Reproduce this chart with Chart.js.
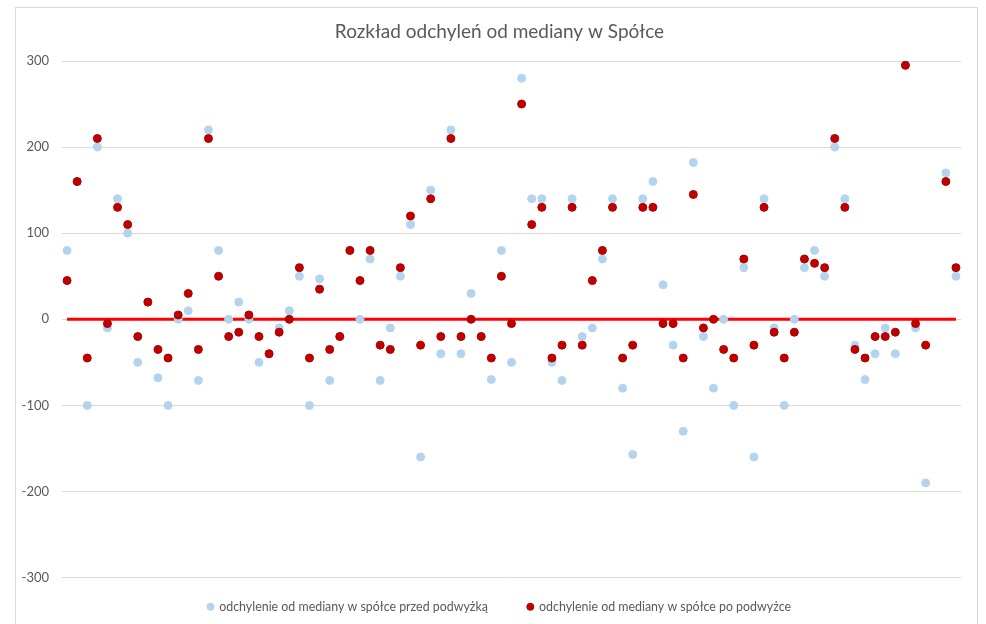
<!DOCTYPE html>
<html>
<head>
<meta charset="utf-8">
<script src="https://cdn.jsdelivr.net/npm/chart.js@4.4.1/dist/chart.umd.min.js"></script>
<style>
  body { margin: 0; background: #fff; overflow: hidden; }
  #ramka { position: absolute; left: 15px; top: 7px; width: 961px; height: 640px; border: 1px solid #d9d9d9; }
  #wykres { position: absolute; left: 0; top: 0; }
</style>
</head>
<body>
<div id="ramka"></div>
<canvas id="wykres" width="986" height="624"></canvas>
<script>
//Dane wykresu - kolejni pracownicy (89 pozycji, pozycja 87 bez danych)
const pracownicy = [];
for (let i = 1; i <= 89; i++) pracownicy.push(i);

//Odchylenie od mediany przed podwyżką
const przedPodwyzka = [
  80, 160, -100, 200, -10, 140, 100, -50, 20, -68,
  -100, 0, 10, -71, 220, 80, 0, 20, 0, -50,
  -40, -10, 10, 50, -100, 47, -71, -20, 80, 0,
  70, -71, -10, 50, 110, -160, 150, -40, 220, -40,
  30, -20, -70, 80, -50, 280, 140, 140, -50, -71,
  140, -20, -10, 70, 140, -80, -157, 140, 160, 40,
  -30, -130, 182, -20, -80, 0, -100, 60, -160, 140,
  -10, -100, 0, 60, 80, 50, 200, 140, -30, -70,
  -40, -10, -40, 295, -10, -190, null, 170, 50
];

//Odchylenie od mediany po podwyżce
const poPodwyzce = [
  45, 160, -45, 210, -5, 130, 110, -20, 20, -35,
  -45, 5, 30, -35, 210, 50, -20, -15, 5, -20,
  -40, -15, 0, 60, -45, 35, -35, -20, 80, 45,
  80, -30, -35, 60, 120, -30, 140, -20, 210, -20,
  0, -20, -45, 50, -5, 250, 110, 130, -45, -30,
  130, -30, 45, 80, 130, -45, -30, 130, 130, -5,
  -5, -45, 145, -10, 0, -35, -45, 70, -30, 130,
  -15, -45, -15, 70, 65, 60, 210, 130, -35, -45,
  -20, -20, -15, 295, -5, -30, null, 160, 60
];

//Linia mediany (zero)
const mediana = pracownicy.map(() => 0);

const yTicks = { min: -300, max: 300, krok: 100 };

const czcionka = 'Lato, Carlito, Calibri, sans-serif';
const szary = '#595959';

//Etykiety osi Y są przycinane do szerokości osi - poszerzamy obszar w lewo po rozkładzie
const bezPrzycinania = {
  id: 'bezPrzycinania',
  afterLayout(chart) {
    chart.scales.y.left = 0;
  }
};

const ctx = document.getElementById('wykres');
new Chart(ctx, {
  type: 'line',
  data: {
    labels: pracownicy,
    datasets: [
      {
        label: 'odchylenie od mediany w spółce przed podwyżką',
        data: przedPodwyzka,
        showLine: false,
        backgroundColor: '#b4d3ee',
        borderColor: '#b4d3ee',
        pointBackgroundColor: '#b4d3ee',
        pointBorderColor: '#b4d3ee',
        pointBorderWidth: 1,
        pointRadius: 4,
        order: 1
      },
      {
        label: 'odchylenie od mediany w spółce po podwyżce',
        data: poPodwyzce,
        showLine: false,
        backgroundColor: '#c00000',
        borderColor: '#a80000',
        pointBackgroundColor: '#c00000',
        pointBorderColor: '#a80000',
        pointBorderWidth: 1,
        pointRadius: 4,
        order: 0
      },
      {
        label: 'mediana',
        data: mediana,
        borderColor: '#ff0000',
        borderWidth: 3,
        pointRadius: 0,
        order: 2
      }
    ]
  },
  plugins: [bezPrzycinania],
  options: {
    responsive: false,
    animation: false,
    events: [],
    layout: { padding: { left: 38, right: 25, top: 0, bottom: 1 } },
    scales: {
      x: {
        display: false,
        offset: true
      },
      y: {
        min: yTicks.min,
        max: yTicks.max,
        afterFit: (scale) => { scale.width = 24; },
        ticks: {
          stepSize: yTicks.krok,
          padding: 13,
          color: szary,
          font: { family: czcionka, size: 13 },
          //zwykły minus zamiast formatu lokalnego
          callback: (wartosc) => String(wartosc).replace('\u2212', '-')
        },
        grid: { color: '#d9d9d9', drawTicks: false },
        border: { display: false }
      }
    },
    plugins: {
      title: {
        display: true,
        text: 'Rozkład odchyleń od mediany w Spółce',
        color: szary,
        font: { family: czcionka, size: 19, weight: 'normal' },
        padding: { top: 20, bottom: 18.2 }
      },
      legend: {
        position: 'bottom',
        //pusty tytuł z ujemnym odstępem - żeby odstęp między pozycjami był większy niż pionowy
        title: { display: true, text: '', font: { size: 12 }, padding: { top: -31.4, bottom: 0 } },
        labels: {
          usePointStyle: true,
          pointStyle: 'circle',
          boxWidth: 5,
          boxHeight: 5,
          padding: 40,
          color: szary,
          font: { family: czcionka, size: 12.4 },
          filter: (item) => item.datasetIndex !== 2,
          sort: (a, b) => a.datasetIndex - b.datasetIndex
        }
      },
      tooltip: { enabled: false }
    }
  }
});
</script>
</body>
</html>
